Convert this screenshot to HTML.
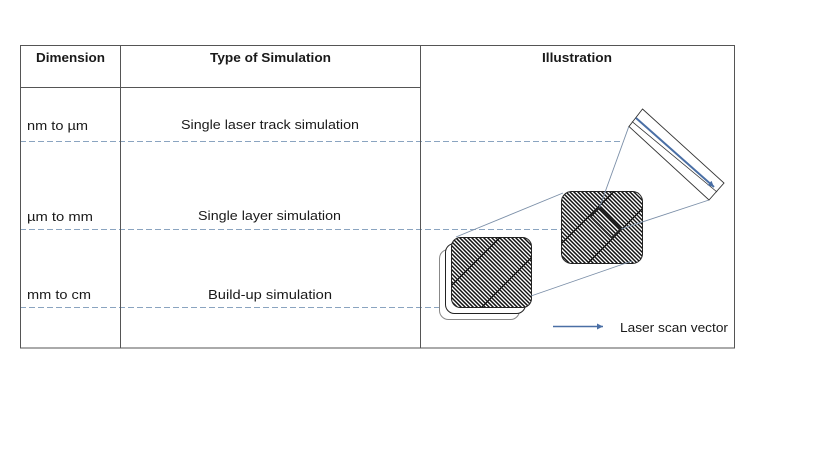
<!DOCTYPE html>
<html>
<head>
<meta charset="utf-8">
<style>
html,body{margin:0;padding:0;background:#fff;}
svg{display:block;}
text{font-family:"Liberation Sans",sans-serif;fill:#1a1a1a;}
</style>
</head>
<body>
<svg width="833" height="467" viewBox="0 0 833 467" xmlns="http://www.w3.org/2000/svg">
<defs>
<clipPath id="cf"><rect x="451.5" y="237.5" width="80" height="70" rx="9"/></clipPath>
<clipPath id="cm"><rect x="561.5" y="191.5" width="81" height="72" rx="10"/></clipPath>
<path id="hl" d="M0 0
l100 100m-96-100 l100 100m-96-100 l100 100m-96-100 l100 100m-96-100
l100 100m-96-100 l100 100m-96-100 l100 100m-96-100 l100 100m-96-100
l100 100m-96-100 l100 100m-96-100 l100 100m-96-100 l100 100m-96-100
l100 100m-96-100 l100 100m-96-100 l100 100m-96-100 l100 100m-96-100
l100 100m-96-100 l100 100m-96-100 l100 100m-96-100 l100 100m-96-100
l100 100m-96-100 l100 100m-96-100 l100 100m-96-100 l100 100m-96-100
l100 100m-96-100 l100 100m-96-100 l100 100m-96-100 l100 100m-96-100
l100 100m-96-100 l100 100m-96-100 l100 100m-96-100 l100 100m-96-100
l100 100m-96-100 l100 100m-96-100 l100 100m-96-100 l100 100m-96-100
l100 100m-96-100 l100 100m-96-100 l100 100m-96-100 l100 100m-96-100
l100 100m-96-100 l100 100m-96-100 l100 100m-96-100 l100 100m-96-100" fill="none" stroke="#111" stroke-width="1.5"/>
<marker id="ah" markerWidth="8" markerHeight="8" refX="6" refY="3" orient="auto" markerUnits="userSpaceOnUse">
<path d="M0,0 L6,3 L0,6 Z" fill="#4a6fa5"/>
</marker>
</defs>
<rect width="833" height="467" fill="#fff"/>

<!-- dashed row lines -->
<g stroke="#8aa4c0" stroke-width="1" stroke-dasharray="6,3" fill="none">
<line x1="20" y1="141.5" x2="623" y2="141.5"/>
<line x1="20" y1="229.5" x2="561" y2="229.5"/>
<line x1="20" y1="307.5" x2="439" y2="307.5"/>
</g>

<!-- table -->
<g stroke="#555" stroke-width="1" fill="none">
<rect x="20.5" y="45.5" width="714" height="302.5"/>
<line x1="120.5" y1="45" x2="120.5" y2="348"/>
<line x1="420.5" y1="45" x2="420.5" y2="348"/>
<line x1="20" y1="87.5" x2="420" y2="87.5"/>
</g>

<!-- header text -->
<text x="36" y="62" font-size="13" font-weight="bold" textLength="69" lengthAdjust="spacingAndGlyphs">Dimension</text>
<text x="210" y="62" font-size="13" font-weight="bold" textLength="121" lengthAdjust="spacingAndGlyphs">Type of Simulation</text>
<text x="542" y="62" font-size="13" font-weight="bold" textLength="70" lengthAdjust="spacingAndGlyphs">Illustration</text>

<!-- row text -->
<text x="27" y="130" font-size="13" textLength="61" lengthAdjust="spacingAndGlyphs">nm to µm</text>
<text x="27" y="221" font-size="13" textLength="66" lengthAdjust="spacingAndGlyphs">µm to mm</text>
<text x="27" y="299" font-size="13" textLength="64" lengthAdjust="spacingAndGlyphs">mm to cm</text>
<text x="181" y="129" font-size="13" textLength="178" lengthAdjust="spacingAndGlyphs">Single laser track simulation</text>
<text x="198" y="220" font-size="13" textLength="143" lengthAdjust="spacingAndGlyphs">Single layer simulation</text>
<text x="208" y="299" font-size="13" textLength="124" lengthAdjust="spacingAndGlyphs">Build-up simulation</text>

<!-- back squares -->
<rect x="439.5" y="249.5" width="80" height="70" rx="9" fill="#fff" stroke="#888" stroke-width="1"/>
<rect x="445.5" y="243.5" width="80" height="70" rx="9" fill="#fff" stroke="#222" stroke-width="1"/>
<!-- front square -->
<rect x="451.5" y="237.5" width="80" height="70" rx="9" fill="#fff"/>
<g clip-path="url(#cf)"><use href="#hl" transform="translate(366,232)"/></g>
<rect x="451.5" y="237.5" width="80" height="70" rx="9" fill="none" stroke="#222" stroke-width="1"/>
<g stroke="#111" stroke-width="1.3">
<line x1="452" y1="285" x2="500" y2="237.5"/>
<line x1="482" y1="307" x2="531" y2="258"/>
</g>

<!-- middle square -->
<rect x="561.5" y="191.5" width="81" height="72" rx="10" fill="#fff"/>
<g clip-path="url(#cm)"><use href="#hl" transform="translate(476,186)"/></g>
<rect x="561.5" y="191.5" width="81" height="72" rx="10" fill="none" stroke="#222" stroke-width="1"/>
<g stroke="#111" stroke-width="1.3">
<line x1="562" y1="243" x2="614" y2="191.5"/>
<line x1="588" y1="263" x2="642" y2="209"/>
</g>
<polygon points="590.5,216.5 599.5,207.5 621,229 612,238" fill="none" stroke="#222" stroke-width="2"/>

<!-- projection lines -->
<g stroke="#7b8fa8" stroke-width="0.9" fill="none">
<line x1="456" y1="237" x2="563" y2="193"/>
<line x1="531" y1="296" x2="632" y2="261"/>
<line x1="629" y1="126" x2="599.5" y2="207.5"/>
<line x1="709" y1="200" x2="621" y2="229"/>
</g>

<!-- strip -->
<polygon points="642.5,109 724,183 709,200 629,126.5" fill="#fff" stroke="#333" stroke-width="0.9"/>
<line x1="632" y1="121.5" x2="717" y2="192" stroke="#333" stroke-width="0.8"/>
<line x1="636" y1="118" x2="714" y2="187" stroke="#4a6fa5" stroke-width="2" marker-end="url(#ah)"/>

<!-- legend -->
<line x1="553" y1="326.5" x2="603" y2="326.5" stroke="#4a6fa5" stroke-width="1.6" marker-end="url(#ah)"/>
<text x="620" y="332" font-size="13" textLength="108" lengthAdjust="spacingAndGlyphs">Laser scan vector</text>
</svg>
</body>
</html>
